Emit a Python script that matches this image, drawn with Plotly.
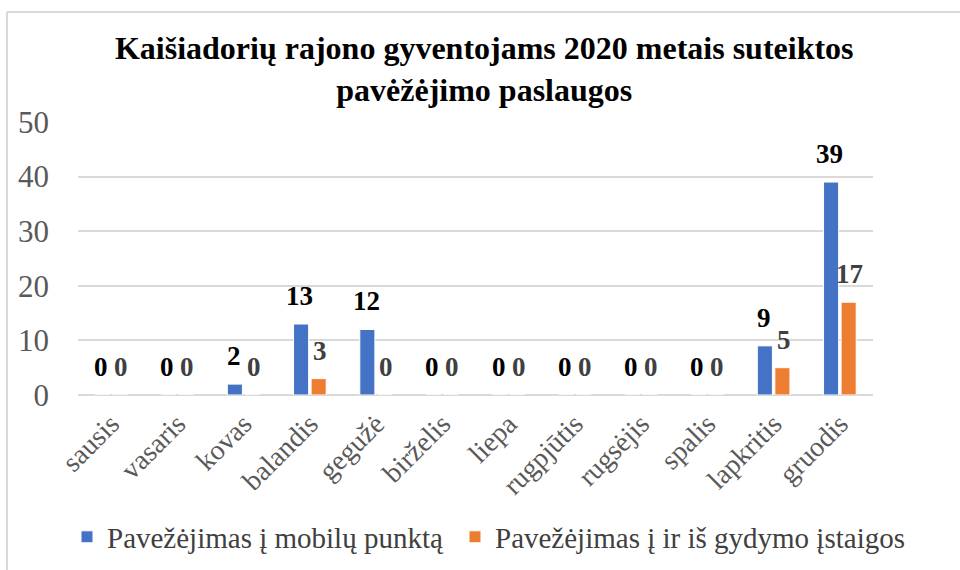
import plotly.graph_objects as go

months = ["sausis", "vasaris", "kovas", "balandis", "gegužė", "birželis",
          "liepa", "rugpjūtis", "rugsėjis", "spalis", "lapkritis", "gruodis"]
mobile = [0, 0, 2, 13, 12, 0, 0, 0, 0, 0, 9, 39]
medical = [0, 0, 0, 3, 0, 0, 0, 0, 0, 0, 5, 17]
name_mobile = "Pavežėjimas į mobilų punktą"
name_medical = "Pavežėjimas į ir iš gydymo įstaigos"
title = "Kaišiadorių rajono gyventojams 2020 metais suteiktos<br>pavėžėjimo paslaugos"
y_ticks = [0, 10, 20, 30, 40, 50]

FONT = "Liberation Serif, Times New Roman, serif"
BLUE = "#4472C4"
ORANGE = "#ED7D31"

fig = go.Figure()
fig.add_trace(go.Bar(x=months, y=mobile, name=name_mobile, legend="legend",
                     marker=dict(color=BLUE, line=dict(color="white", width=1))))
fig.add_trace(go.Bar(x=months, y=medical, name=name_medical, legend="legend2",
                     marker=dict(color=ORANGE, line=dict(color="white", width=1))))

annotations = []
for m, v in zip(months, mobile):
    annotations.append(dict(x=m, y=v, xref="x", yref="y", text=str(v), showarrow=False,
                            xshift=-10, yshift=28, yanchor="middle", xanchor="center",
                            font=dict(family=FONT, size=27, color="#000000", weight="bold")))
for m, v in zip(months, medical):
    annotations.append(dict(x=m, y=v, xref="x", yref="y", text=str(v), showarrow=False,
                            xshift=10, yshift=28, yanchor="middle", xanchor="center",
                            font=dict(family=FONT, size=27, color="#404040", weight="bold")))

legend_common = dict(orientation="h", xanchor="left", xref="container",
                     y=-0.52, yanchor="middle", yref="paper",
                     font=dict(family=FONT, size=29, color="#404040"), itemclick=False)

fig.update_layout(
    width=960, height=570,
    margin=dict(l=78, r=87, t=122, b=175, autoexpand=False),
    paper_bgcolor="white", plot_bgcolor="white",
    barmode="group", bargap=0.47, bargroupgap=0.14,
    title=dict(text=title, x=0.511, xanchor="center", xref="paper",
               y=1 - 59 / 570, yref="container", yanchor="middle",
               font=dict(family=FONT, size=32, color="#000000", weight="bold")),
    font=dict(family=FONT, color="#595959"),
    showlegend=True,
    legend=dict(x=67 / 960, **legend_common),
    legend2=dict(x=455 / 960, **legend_common),
    annotations=annotations,
    shapes=[
        dict(type="line", xref="paper", yref="paper", x0=(7 - 78) / 795, x1=(962 - 78) / 795,
             y0=(395 - 12) / 273, y1=(395 - 12) / 273, line=dict(color="#d9d9d9", width=2)),
        dict(type="line", xref="paper", yref="paper", x0=(7 - 78) / 795, x1=(7 - 78) / 795,
             y0=(395 - 12) / 273, y1=(395 - 572) / 273, line=dict(color="#d9d9d9", width=2)),
    ],
)
fig.update_xaxes(tickangle=-45, showgrid=False, showline=False, ticks="",
                 ticklabelstandoff=6, automargin=False,
                 tickfont=dict(family=FONT, size=28, color="#595959"))
fig.update_yaxes(range=[0, 50], tickvals=y_ticks, showgrid=True, gridcolor="#d9d9d9",
                 gridwidth=1.5, zeroline=True, zerolinecolor="#d9d9d9", zerolinewidth=1.5,
                 showline=False, ticks="", ticklabelstandoff=28, automargin=False,
                 tickfont=dict(family=FONT, size=31, color="#595959"))

fig.write_html("out.html", config={"displayModeBar": False},
               post_script="document.body.style.margin='0px';")
